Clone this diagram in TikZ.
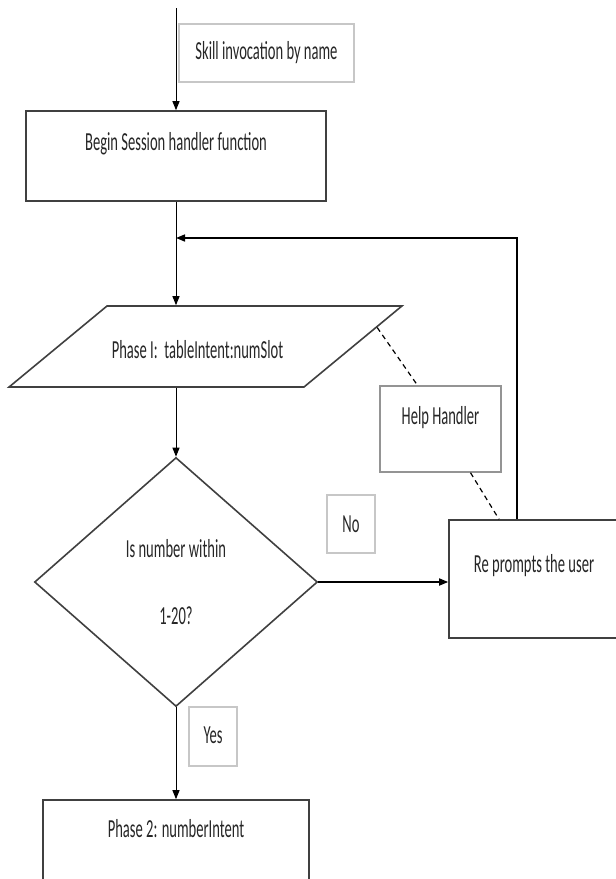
\documentclass[tikz,border=0pt]{standalone}
\usepackage{fontspec}
\setmainfont{Carlito}[FakeStretch=0.56]
\usepackage{tikz}
\usetikzlibrary{arrows.meta,positioning,shapes.geometric,calc}

\begin{document}
\begin{tikzpicture}[
    x=1pt, y=-1pt,
    font=\fontsize{26}{30}\selectfont,
    block/.style={
        draw=black!75,
        line width=1.6pt,
        inner sep=0pt,
        align=center,
        text=black!85
    },
    tag/.style={
        draw=black!22,
        line width=1.4pt,
        inner sep=0pt,
        align=center,
        text=black!85
    },
    arrow/.style={-{Triangle[length=9pt,width=7pt]},line width=1pt},
    helpline/.style={line width=1.2pt,dash pattern=on 5pt off 4pt}
]
\clip (0,0) rectangle (616,879);

\node[tag, minimum width=175pt, text height=35pt, text depth=23pt] (skill) at (266.5,53) {Skill invocation by name};
\node[block, minimum width=300pt, text height=39pt, text depth=51pt] (begin) at (176,156) {Begin Session handler function};

\node[block, trapezium, trapezium left angle=39.6, trapezium right angle=140.4,
      text height=52pt, text depth=29pt] (phase1) at (205.5,346.5) {\makebox[197pt]{\hspace{-16pt}Phase I:\ \ tableIntent:numSlot}};

\node[tag, draw=black!42, minimum width=121pt, text height=38pt, text depth=48pt] (help) at (440.5,429) {Help Handler};

\node[block, diamond, minimum width=283pt, minimum height=249pt] (check) at (176,582) {Is number within\\[37pt]1-20?};

\node[tag, minimum width=48pt, text height=37pt, text depth=21pt] (no) at (351,524) {No};
\node[block, minimum width=170pt, text height=52pt, text depth=66pt] (reprompt) at (534,579) {Re prompts the user};

\node[tag, minimum width=48pt, text height=36pt, text depth=23pt] (yes) at (213,736.5) {Yes};
\node[block, minimum width=266pt, text height=37pt, text depth=63pt] (phase2) at (176,850) {Phase 2: numberIntent};

\coordinate (entry) at (176,8);
\coordinate (back) at (517,238);

\draw[arrow] (entry) -- (begin.north);
\draw[arrow] (begin.south) -- (begin.south |- phase1.north);
\draw[arrow, line width=1.6pt] (back |- reprompt.north) -- (back) -- (back -| begin.south);
\draw[arrow] (check.north |- phase1.south) -- (check.north);
\draw[arrow, line width=1.6pt] (check.east) -- (check.east -| reprompt.west);
\draw[arrow] (check.south) -- (phase2.north);

\draw[helpline] ($(phase1.top right corner)!0.27!(phase1.bottom right corner)$) -- ([xshift=-23pt]help.north);
\draw[helpline] ([xshift=30pt]help.south) -- ([xshift=-35pt]reprompt.north);

\end{tikzpicture}
\end{document}
